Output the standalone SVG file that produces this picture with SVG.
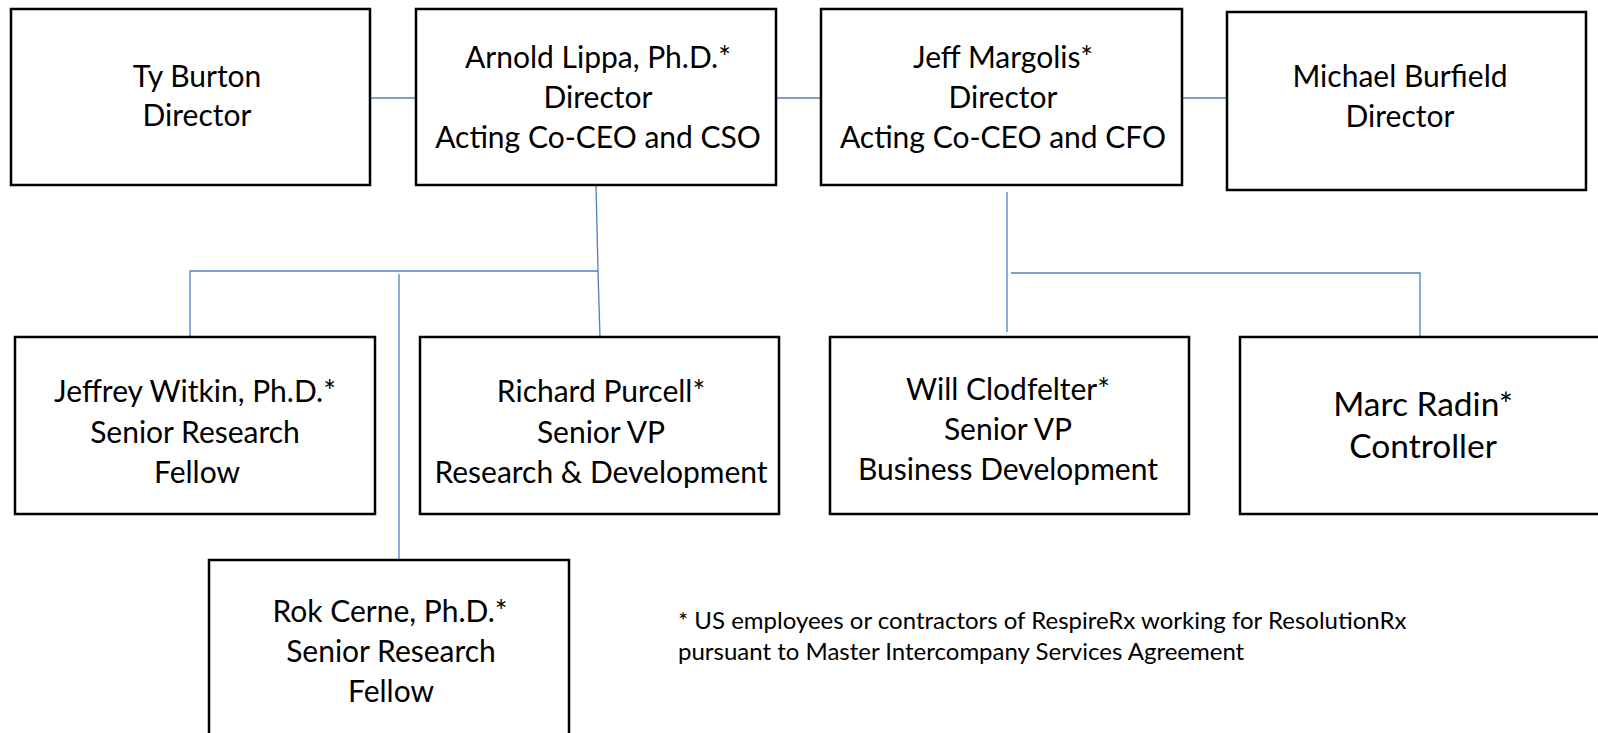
<svg xmlns="http://www.w3.org/2000/svg" width="1598" height="733" viewBox="0 0 1598 733">
<style>
.box{fill:#fff;stroke:#000;stroke-width:2.5}
.t{font-family:Lato,"Liberation Sans",sans-serif;font-size:30px;fill:#000;text-anchor:middle}
.big{font-size:33.5px}
.note{font-family:Lato,"Liberation Sans",sans-serif;font-size:24px;fill:#000}
.c{fill:none;stroke:#4F81BD;stroke-width:1.3}
</style>
<rect width="1598" height="733" fill="#fff"/>
<g id="connectors">
<path class="c" d="M370 98H416"/>
<path class="c" d="M776 98H821"/>
<path class="c" d="M1182 98H1227"/>
<path class="c" d="M596 186L598 271L600 337"/>
<path class="c" d="M190 337V271H598"/>
<path class="c" d="M399 274V560"/>
<path class="c" d="M1007 192V332"/>
<path class="c" d="M1011 273H1420V337"/>
</g>
<g id="ty-burton">
<rect class="box" x="11" y="9" width="359" height="176"/>
<text class="t" x="197" y="87">Ty Burton</text>
<text class="t" x="197" y="126">Director</text>
</g>
<g id="arnold-lippa">
<rect class="box" x="416" y="9" width="360" height="176"/>
<text class="t" x="598" y="68">Arnold Lippa, Ph.D.*</text>
<text class="t" x="598" y="108">Director</text>
<text class="t" x="598" y="148">Acting Co-CEO and CSO</text>
</g>
<g id="jeff-margolis">
<rect class="box" x="821" y="9" width="361" height="176"/>
<text class="t" x="1003" y="68">Jeff Margolis*</text>
<text class="t" x="1003" y="108">Director</text>
<text class="t" x="1003" y="148">Acting Co-CEO and CFO</text>
</g>
<g id="michael-burfield">
<rect class="box" x="1227" y="12" width="359" height="178"/>
<text class="t" x="1400" y="87">Michael Burfield</text>
<text class="t" x="1400" y="127">Director</text>
</g>
<g id="jeffrey-witkin">
<rect class="box" x="15" y="337" width="360" height="177"/>
<text class="t" x="195" y="402">Jeffrey Witkin, Ph.D.*</text>
<text class="t" x="195" y="443">Senior Research</text>
<text class="t" x="197" y="483">Fellow</text>
</g>
<g id="richard-purcell">
<rect class="box" x="420" y="337" width="359" height="177"/>
<text class="t" x="601" y="402">Richard Purcell*</text>
<text class="t" x="601" y="443">Senior VP</text>
<text class="t" x="601" y="483">Research &amp; Development</text>
</g>
<g id="will-clodfelter">
<rect class="box" x="830" y="337" width="359" height="177"/>
<text class="t" x="1008" y="400">Will Clodfelter*</text>
<text class="t" x="1008" y="440">Senior VP</text>
<text class="t" x="1008" y="480">Business Development</text>
</g>
<g id="marc-radin">
<rect class="box" x="1240" y="337" width="380" height="177"/>
<text class="t big" x="1423" y="416">Marc Radin*</text>
<text class="t big" x="1423" y="458">Controller</text>
</g>
<g id="rok-cerne">
<rect class="box" x="209" y="560" width="360" height="200"/>
<text class="t" x="390" y="622">Rok Cerne, Ph.D.*</text>
<text class="t" x="391" y="662">Senior Research</text>
<text class="t" x="391" y="702">Fellow</text>
</g>
<g id="footnote">
<text class="note" x="678" y="629">* US employees or contractors of RespireRx working for ResolutionRx</text>
<text class="note" x="678" y="660">pursuant to Master Intercompany Services Agreement</text>
</g>
</svg>
